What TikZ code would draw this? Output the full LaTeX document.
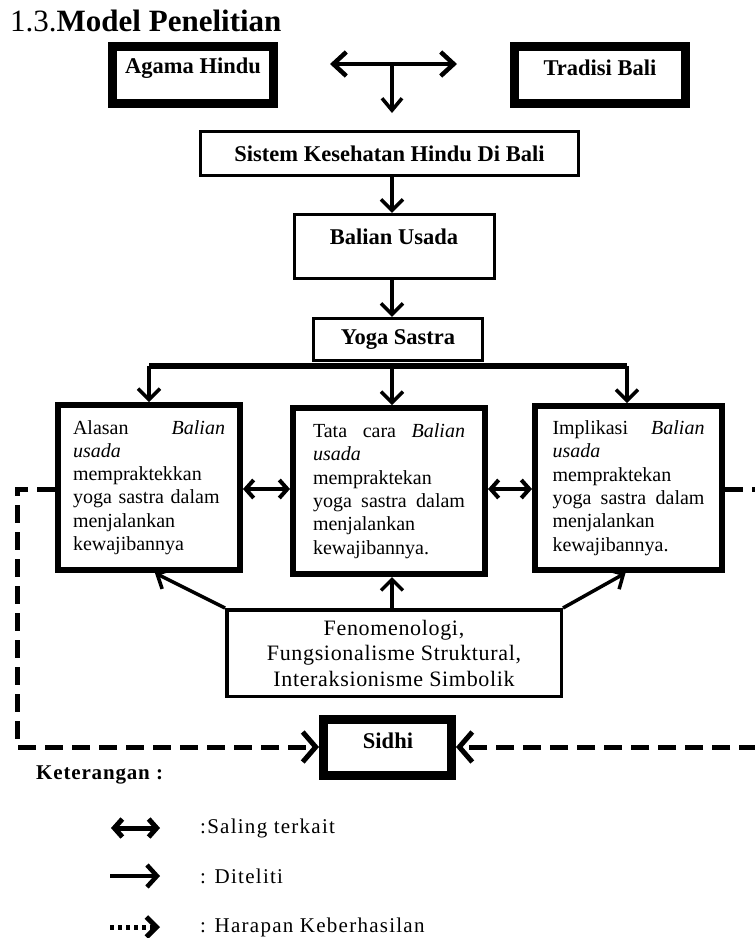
\documentclass[tikz,border=0pt]{standalone}
\usepackage{fontspec}
\setmainfont{Liberation Serif}
\usetikzlibrary{arrows.meta,calc}
\begin{document}
\begin{tikzpicture}[x=1pt,y=-1pt,
  bx/.style={draw, line width=3.5pt, inner sep=0pt},
  heavy/.style={draw, line width=9pt, inner sep=0pt},
  mbox/.style={draw, line width=6pt, inner sep=0pt, text width=152pt, align=left, font=\fontsize{20}{23.3}\selectfont},
  btxt/.style={font=\fontsize{22.5}{26}\selectfont\bfseries, inner sep=0pt},
  arr/.style={line width=3.5pt, -{Straight Barb[length=11pt,width=22pt]}},
  dbl/.style={line width=4pt, {Straight Barb[length=8pt,width=18pt]}-{Straight Barb[length=8pt,width=18pt]}},
  dsh/.style={line width=5pt, dash pattern=on 18pt off 9pt},
  dsharr/.style={dsh, -{Straight Barb[length=13pt,width=30pt]}},
  lgtxt/.style={anchor=west, inner sep=0pt, font=\fontsize{21}{24}\selectfont\addfontfeature{LetterSpace=6}}]
\fill[white] (0,0) rectangle (755,938);
\useasboundingbox (0,0) rectangle (755,938);

% title
\node[anchor=base west, inner sep=0pt, font=\fontsize{31}{36}\selectfont] (title) at (10,31) {1.3.\textbf{Model Penelitian}};

% top boxes
\node[heavy, minimum width=161pt, minimum height=57pt] (agama) at (193,75) {};
\node[btxt] (agamaT) at (193,68) {Agama Hindu};
\node[heavy, minimum width=171pt, minimum height=57pt] (tradisi) at (600,75) {};
\node[btxt] (tradisiT) at (600,68) {Tradisi Bali};

\coordinate (tl) at (330,64);
\coordinate (tr) at (457,64);
\coordinate (tm) at (392,64);
\coordinate (tb) at (392,113);
\draw[line width=4.5pt, {Straight Barb[length=13pt,width=24pt]}-{Straight Barb[length=13pt,width=24pt]}] (tl) -- (tr);
\draw[line width=3.5pt, -{Straight Barb[length=12pt,width=20pt]}] (tm) -- (tb);

% chain
\node[bx, btxt, minimum width=378pt, minimum height=44pt] (sistem) at (389.5,153.5) {Sistem Kesehatan Hindu Di Bali};
\node[bx, minimum width=200pt, minimum height=64pt] (balian) at (394.5,246.5) {};
\node[btxt] (balianT) at (394,237) {Balian Usada};
\node[bx, btxt, minimum width=169pt, minimum height=42pt] (yoga) at (398,339.5) {Yoga Sastra};
\draw[arr] (sistem.south -| tb) -- (balian.north -| tb);
\draw[arr] (balian.south -| tb) -- (yoga.north -| tb);

% three boxes
\node[mbox, minimum width=182pt, minimum height=165pt] (left) at (149,487.5)
  {Alasan\hfill\textit{Balian}\\ \textit{usada}\\ mempraktekkan\\ yoga sastra dalam\\ menjalankan\\ kewajibannya};
\node[mbox, minimum width=192pt, minimum height=166pt] (mid) at (389,491)
  {Tata\hfill cara\hfill\textit{Balian}\\ \textit{usada}\\ mempraktekan\\ yoga\hfill sastra\hfill dalam\\ menjalankan\\ kewajibannya.};
\node[mbox, minimum width=187pt, minimum height=164pt] (right) at (628.5,488)
  {Implikasi\hfill\textit{Balian}\\ \textit{usada}\\ mempraktekan\\ yoga\hfill sastra\hfill dalam\\ menjalankan\\ kewajibannya.};

% bus
\coordinate (busL) at (149,366);
\coordinate (busM) at (392,366);
\coordinate (busR) at (627,366);
\draw[line width=6pt] (busL) -- (busR);
\draw[arr] (busL) -- (busL |- left.north);
\draw[arr] (busM) -- (busM |- mid.north);
\draw[arr] (busR) -- (busR |- right.north);

% double arrows between boxes
\coordinate (dy) at (0,489);
\draw[dbl] (left.east |- dy) -- (mid.west |- dy);
\draw[dbl] (mid.east |- dy) -- (right.west |- dy);

% theory box
\node[bx, align=center, font=\fontsize{22}{25.5}\selectfont\addfontfeature{LetterSpace=3}, minimum width=334.5pt, minimum height=86.5pt] (teori) at (394,653)
  {Fenomenologi,\\ Fungsionalisme Struktural,\\ Interaksionisme Simbolik};
\draw[arr] (teori.north west) -- ([xshift=6pt]left.south);
\draw[arr] (teori.north -| tb) -- (mid.south -| tb);
\draw[arr] (teori.north east) -- ([xshift=-3pt]right.south);

% Sidhi
\node[heavy, minimum width=128pt, minimum height=56pt] (sidhi) at (387.5,747.5) {};
\node[btxt] (sidhiT) at (388,741) {Sidhi};

% dashed
\coordinate (dl1) at (17,489);
\coordinate (dl2) at (17,747);
\coordinate (dr1) at (757,489);
\coordinate (dr2) at (757,747);
\draw[dsharr] (left.west |- dy) -- (dl1) -- (dl2) -- (sidhi.west |- dl2);
\draw[dsh] (right.east |- dy) -- (dr1);
\draw[dsharr] (dr2) -- (sidhi.east |- dr2);

% legend
\node[anchor=west, inner sep=0pt, font=\fontsize{21}{24}\selectfont\bfseries\addfontfeature{LetterSpace=4}] (ket) at (36,775) {Keterangan :};
\coordinate (l1a) at (111,828);
\coordinate (l1b) at (160,828);
\coordinate (l2a) at (110,876);
\coordinate (l2b) at (160,876);
\coordinate (l3a) at (110,927);
\coordinate (l3b) at (160,927);
\draw[line width=5pt, {Straight Barb[length=8pt,width=18pt]}-{Straight Barb[length=8pt,width=18pt]}] (l1a) -- (l1b);
\draw[line width=4.5pt, -{Straight Barb[length=10pt,width=22pt]}] (l2a) -- (l2b);
\draw[line width=5pt, dash pattern=on 4pt off 4pt, -{Straight Barb[length=10pt,width=20pt]}] (l3a) -- (l3b);
\node[lgtxt] (t1) at (200,828) {:Saling terkait};
\node[lgtxt] (t2) at (200,876) {: Diteliti};
\node[lgtxt] (t3) at (200,927) {: Harapan Keberhasilan};
\end{tikzpicture}
\end{document}
